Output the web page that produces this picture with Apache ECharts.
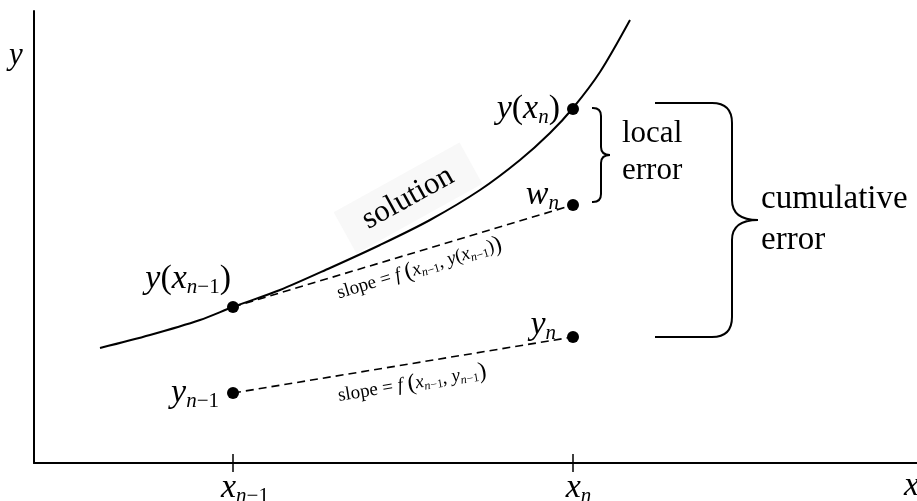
<!DOCTYPE html>
<html><head><meta charset="utf-8">
<script src="https://cdn.jsdelivr.net/npm/echarts@6/dist/echarts.min.js"></script>
<style>html,body{margin:0;padding:0;background:#fff}#c{width:917px;height:501px}</style>
</head><body><div id="c"></div>
<script>
// ---- data (chart units) ----
const curveX = [66, 116, 166, 199, 246, 296, 346, 396, 446, 486, 516, 539, 566, 596];
const curveY = [115, 128, 143, 156, 173, 195, 218, 243, 273, 303, 330, 355, 391, 443];
const pointNames = ['y(x_{n-1})', 'y(x_n)', 'w_n', 'y_n', 'y_{n-1}'];
const pointX = [199, 539, 539, 539, 199];
const pointY = [156, 354, 258, 126, 70];
const tickValues = [199, 539];
const tickNames = ['x_{n-1}', 'x_n'];
const xRange = [0, 883];
const yRange = [0, 452];

// ---- styling ----
const F = '"Liberation Serif", "Times New Roman", serif';
function richSet(p, big, small, lh, slh) {
  const o = {};
  o[p + 'i'] = {fontFamily: F, fontStyle: 'italic', fontSize: big, lineHeight: lh, color: '#000'};
  o[p + 'r'] = {fontFamily: F, fontSize: big, lineHeight: lh, color: '#000'};
  o[p + 'P'] = {fontFamily: F, fontSize: big * 1.25, lineHeight: lh, color: '#000'};
  o[p + 'si'] = {fontFamily: F, fontStyle: 'italic', fontSize: small, lineHeight: slh, verticalAlign: 'bottom', color: '#000'};
  o[p + 'sr'] = {fontFamily: F, fontSize: small, lineHeight: slh, verticalAlign: 'bottom', color: '#000'};
  return o;
}
const rich = Object.assign({}, richSet('a', 34, 21, 38, 21), richSet('b', 19, 12, 22, 12));
rich.bw = {fontFamily: F, fontSize: 19, lineHeight: 22, color: '#000'};
rich.sp1 = {width: 24, fontSize: 10};
rich.sp2 = {width: 11, fontSize: 10};
function tex(s, p) {
  let out = '', i = 0;
  const tok = (st, ch) => '{' + p + st + '|' + ch + '}';
  while (i < s.length) {
    const c = s[i];
    if (c === '_') {
      let sub;
      if (s[i + 1] === '{') { const j = s.indexOf('}', i); sub = s.slice(i + 2, j); i = j + 1; }
      else { sub = s[i + 1]; i += 2; }
      for (const ch of sub) out += /[a-z]/i.test(ch) ? tok('si', ch) : tok('sr', ch === '-' ? '\u2212' : ch);
      continue;
    }
    if (/[a-z]/i.test(c)) out += tok('i', c);
    else if (c === '[') out += tok('P', '(');
    else if (c === ']') out += tok('P', ')');
    else out += tok('r', c);
    i++;
  }
  return out;
}

// label placement (pixels) for each point
const pointLabelOffset = [[8, -28], [-3, 0], [-4, -10], [-7, -12], [-4, 0]];

const chart = echarts.init(document.getElementById('c'), null, {renderer: 'canvas'});

const points = pointX.map((x, k) => ({
  value: [x, pointY[k]],
  label: {show: true, position: 'left', distance: 4, offset: pointLabelOffset[k],
          formatter: tex(pointNames[k], 'a'), rich: rich}
}));

function mid(a, b) { return [(pointX[a] + pointX[b]) / 2, (pointY[a] + pointY[b]) / 2]; }

const annotations = [
  {value: mid(0, 2), label: {formatter: '{bw|slope = }' + tex('f [x_{n-1}, y(x_{n-1})]', 'b'),
    rotate: 17, offset: [12, 17]}},
  {value: mid(4, 3), label: {formatter: '{bw|slope = }' + tex('f [x_{n-1}, y_{n-1}]', 'b'),
    rotate: 9.5, offset: [6, 20]}}
];

// braces anchored on data values, geometry in pixels
const braces = [
  {x: 539, top: 354, bottom: 258, open: 19, spine: 28, tip: 37, r: 8, dTop: -1, dBot: -3},
  {x: 539, top: 354, bottom: 126, open: 82, spine: 159, tip: 185, r: 20, dTop: -6, dBot: 0}
];

function braceRender(params, api) {
  const b = braces[params.dataIndex];
  const pt = api.coord([b.x, b.top]);
  const pb = api.coord([b.x, b.bottom]);
  const x0 = pt[0] + b.open, xs = pt[0] + b.spine, xt = pt[0] + b.tip;
  const top = pt[1] + b.dTop, bot = pb[1] + b.dBot, m = (top + bot) / 2, r = b.r;
  const rt = Math.min(r, (xt - xs) * 0.9);
  const d = ['M', x0, top, 'L', xs - r, top, 'Q', xs, top, xs, top + r,
    'L', xs, m - rt, 'Q', xs, m, xt, m, 'Q', xs, m, xs, m + rt,
    'L', xs, bot - r, 'Q', xs, bot, xs - r, bot, 'L', x0, bot].join(' ');
  return {type: 'path', shape: {pathData: d}, style: {stroke: '#000', fill: null, lineWidth: 2}};
}

const textOnly = {symbolSize: 0, itemStyle: {opacity: 1}};

const option = {
  animation: false,
  backgroundColor: '#fff',
  grid: {left: 34, right: 0, top: 11, bottom: 38, outerBoundsMode: 'none', containLabel: false},
  xAxis: [{
    type: 'value', min: xRange[0], max: xRange[1],
    axisLine: {lineStyle: {color: '#000', width: 2}},
    splitLine: {show: false},
    axisTick: {show: true, customValues: tickValues, length: 9, lineStyle: {color: '#000', width: 1.5}},
    axisLabel: {show: true, customValues: tickValues, margin: 6, rich: rich,
      formatter: v => { const k = tickValues.indexOf(v); return '{sp' + (k + 1) + '| }' + tex(tickNames[k], 'a'); }}
  }, {
    type: 'value', min: xRange[0], max: xRange[1], position: 'bottom', gridIndex: 0,
    axisLine: {show: false}, splitLine: {show: false},
    axisTick: {show: true, inside: true, customValues: tickValues, length: 9, lineStyle: {color: '#000', width: 1.5}},
    axisLabel: {show: false}
  }],
  yAxis: {
    type: 'value', min: yRange[0], max: yRange[1],
    axisLine: {show: true, lineStyle: {color: '#000', width: 2}},
    axisTick: {show: false}, axisLabel: {show: false}, splitLine: {show: false}
  },
  graphic: [
    {type: 'text', left: 9, top: 40, style: {text: 'y', font: 'italic 31px ' + F, fill: '#000'}},
    {type: 'text', left: 904, top: 469, style: {text: 'x', font: 'italic 34px ' + F, fill: '#000'}}
  ],
  series: [
    {type: 'line', data: curveX.map((x, k) => [x, curveY[k]]), smooth: 0.3,
     showSymbol: false, lineStyle: {color: '#000', width: 2}, z: 2, silent: true},
    {type: 'line', data: [[pointX[0], pointY[0]], [pointX[2], pointY[2]]], showSymbol: false,
     lineStyle: {color: '#000', width: 1.6, type: [8, 5]}, z: 1},
    {type: 'line', data: [[pointX[4], pointY[4]], [pointX[3], pointY[3]]], showSymbol: false,
     lineStyle: {color: '#000', width: 1.6, type: [8, 5]}, z: 1},
    {type: 'scatter', data: points, symbol: 'circle', symbolSize: 12, itemStyle: {color: '#000', opacity: 1}, z: 5},
    Object.assign({type: 'scatter', z: 4, data: annotations.map(a => ({value: a.value,
      label: Object.assign({show: true, position: 'inside', rich: rich}, a.label)}))}, textOnly),
    Object.assign({type: 'scatter', z: 0, data: [{value: [374, 265], label: {show: true, position: 'inside',
      formatter: 'solution', rotate: 29, fontFamily: F, fontSize: 31, color: '#000',
      backgroundColor: '#f8f8f8', padding: [8, 22]}}]}, textOnly),
    Object.assign({type: 'scatter', data: [
      {value: [588, 311], label: {show: true, position: 'right', distance: 0, formatter: 'local\nerror',
        fontFamily: F, fontSize: 31, lineHeight: 37, color: '#000'}},
      {value: [727, 243], label: {show: true, position: 'right', distance: 0, formatter: 'cumulative\nerror',
        fontFamily: F, fontSize: 33, lineHeight: 41, color: '#000'}}
    ]}, textOnly),
    {type: 'custom', renderItem: braceRender, data: braces.map((b, k) => [k]), z: 3, silent: true}
  ]
};
chart.setOption(option);
</script>
</body></html>
